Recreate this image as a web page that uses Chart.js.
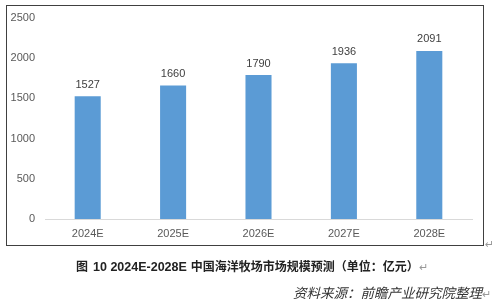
<!DOCTYPE html>
<html>
<head>
<meta charset="utf-8">
<script src="https://cdn.jsdelivr.net/npm/chart.js@4/dist/chart.umd.min.js"></script>
<style>
  html, body { margin: 0; padding: 0; background: #fff; }
  #wrap { position: relative; width: 498px; height: 305px; overflow: hidden; }
  #chart { position: absolute; left: 0; top: 0; }
  #frame { position: absolute; left: 6px; top: 5px; width: 476px; height: 239px; border: 1.5px solid #404040; }
  .caption { position: absolute; left: 76px; top: 257px; font-size: 12px; font-weight: bold; color: #222;
    font-family: "Noto Sans CJK SC", sans-serif; white-space: nowrap; }
  .caption .num { font-family: "Liberation Sans", Arial, sans-serif; font-weight: bold; font-size: 12.5px; margin-left: 5px; margin-right: 4px; }
  .source { position: absolute; left: 293px; top: 282px; font-size: 13.5px; font-style: italic; color: #333;
    font-family: "Noto Sans CJK SC", sans-serif; white-space: nowrap; }
  .ret { color: #999; font-weight: normal; font-size: 11px; font-style: normal; }
  #ret1 { position: absolute; left: 485px; top: 238px; color: #999; font-size: 11px; font-family: "DejaVu Sans", sans-serif; }
</style>
</head>
<body>
<div id="wrap">
  <div id="frame"></div>
  <canvas id="chart" width="498" height="305"></canvas>
  <div id="ret1">↵</div>
  <div class="caption">图<span class="num">10 2024E-2028E</span>中国海洋牧场市场规模预测（单位：亿元）<span class="ret">↵</span></div>
  <div class="source">资料来源：前瞻产业研究院整理<span class="ret">↵</span></div>
</div>
<script>
// Data
const years = ['2024E', '2025E', '2026E', '2027E', '2028E'];
const marketSize = [1527, 1660, 1790, 1936, 2091];
const yTicks = [0, 500, 1000, 1500, 2000, 2500];

// Simple value labels above the bars
const barLabels = {
  id: 'barLabels',
  afterDatasetsDraw(chart) {
    const ctx = chart.ctx;
    const meta = chart.getDatasetMeta(0);
    ctx.save();
    ctx.font = '11px "Liberation Sans", Arial, sans-serif';
    ctx.fillStyle = '#404040';
    ctx.textAlign = 'center';
    ctx.textBaseline = 'bottom';
    meta.data.forEach((bar, i) => {
      ctx.fillText(String(marketSize[i]), bar.x, bar.y - 6);
    });
    ctx.restore();
  }
};

const ctx = document.getElementById('chart').getContext('2d');
new Chart(ctx, {
  type: 'bar',
  data: {
    labels: years,
    datasets: [{
      data: marketSize,
      backgroundColor: '#5B9BD5',
      borderWidth: 0,
      categoryPercentage: 1,
      barPercentage: 0.305
    }]
  },
  options: {
    responsive: false,
    animation: false,
    layout: { padding: { left: 0, right: 26, top: 18, bottom: 66 } },
    plugins: {
      legend: { display: false },
      tooltip: { enabled: false }
    },
    scales: {
      y: {
        min: 0,
        max: 2500,
        afterBuildTicks(scale) { scale.ticks = yTicks.map(v => ({ value: v })); },
        afterFit(scale) { scale.width = 45; },
        grid: { display: false, drawTicks: false },
        border: { display: false },
        ticks: {
          padding: 10,
          color: '#595959',
          font: { size: 11, family: '"Liberation Sans", Arial, sans-serif' },
          callback: v => String(v)
        }
      },
      x: {
        afterFit(scale) { scale.height = 20; },
        grid: { display: false, drawTicks: false },
        border: { display: true, color: '#d9d9d9', width: 1 },
        ticks: {
          padding: 8,
          color: '#595959',
          font: { size: 11, family: '"Liberation Sans", Arial, sans-serif' }
        }
      }
    }
  },
  plugins: [barLabels]
});
</script>
</body>
</html>
